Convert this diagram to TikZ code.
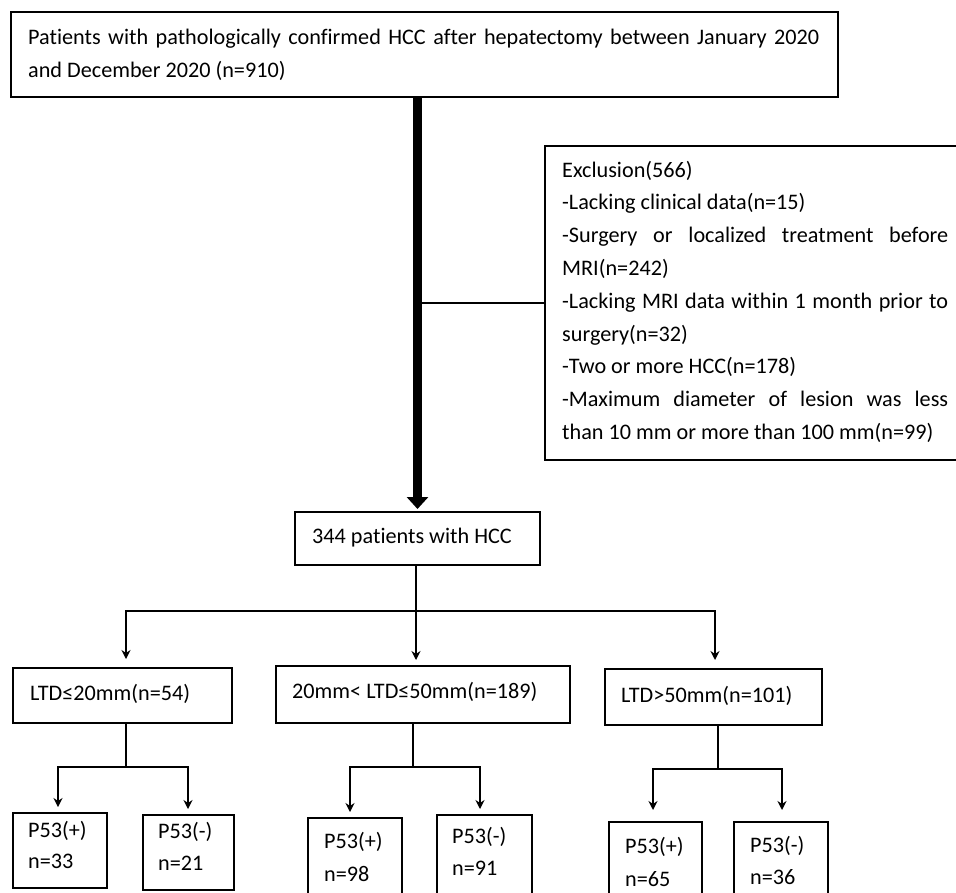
\documentclass[tikz,border=0pt]{standalone}
\usepackage{fontspec}
\setmainfont{Carlito}[Ligatures=NoCommon]
\usetikzlibrary{arrows.meta}

\newcommand{\natsp}{\spaceskip=0pt\xspaceskip=0pt\relax}
\newcommand{\fullline}[2]{\makebox[#1][s]{#2}}

\tikzset{
  box/.style={draw, line width=1.8pt, anchor=north west, inner sep=0pt, outer sep=0pt},
  txt/.style={anchor=base west, inner sep=0pt, font=\fontsize{22.2}{33}\selectfont},
  lines/.style={txt, align=left, text width=#1},
  link/.style={line width=1.5pt},
  arr/.style={link, -{Stealth[length=9pt,width=9pt]}, shorten >=7pt},
  arrs/.style={link, {Stealth[length=9pt,width=9pt]}-{Stealth[length=9pt,width=9pt]}, shorten >=#1, shorten <=#1},
  bigarr/.style={line width=9pt, -{Triangle[length=12pt,width=21pt]}, shorten >=3pt}
}

\begin{document}
\begin{tikzpicture}[x=1pt, y=-1pt]
\useasboundingbox (0,0) rectangle (956,892);
\clip (0,0) rectangle (956,892);

% boxes
\node[box, line width=2.2pt, minimum width=827pt, minimum height=85pt] (top) at (11,12) {};
\node[box, minimum width=430pt, minimum height=314pt] (excl) at (545,146) {};
\node[box, minimum width=245pt, minimum height=53pt] (pat) at (295,512) {};
\node[box, minimum width=219pt, minimum height=55pt] (ltdA) at (13,668) {};
\node[box, minimum width=294pt, minimum height=57pt] (ltdB) at (276,666) {};
\node[box, minimum width=217pt, minimum height=56pt] (ltdC) at (605,669) {};
\node[box, minimum width=94pt, minimum height=75pt] (pA1) at (13,813) {};
\node[box, minimum width=91pt, minimum height=75pt] (pA2) at (143,815) {};
\node[box, minimum width=94pt, minimum height=80pt] (pB1) at (308,818) {};
\node[box, minimum width=95pt, minimum height=82pt] (pB2) at (437,815) {};
\node[box, minimum width=93pt, minimum height=75pt] (pC1) at (609,822) {};
\node[box, minimum width=94pt, minimum height=75pt] (pC2) at (734,822) {};

% texts
\node[lines=791pt] (topT) at (28,44) {\natsp\fullline{791pt}{Patients with pathologically confirmed HCC after hepatectomy between January 2020}\\and December 2020 (n=910)};
\node[lines=386pt, font=\fontsize{22.2}{32.8}\selectfont] (exclT) at (562,177) {\natsp Exclusion(566)\\
-Lacking clinical data(n=15)\\
\fullline{386pt}{-Surgery or localized treatment before}\\
MRI(n=242)\\
\fullline{386pt}{-Lacking MRI data within 1 month prior to}\\
surgery(n=32)\\
-Two or more HCC(n=178)\\
\fullline{386pt}{-Maximum diameter of lesion was less}\\
than 10 mm or more than 100 mm(n=99)};
\node[txt] (patT) at (312,543) {344 patients with HCC};
\node[txt] (ltdAT) at (30,700) {LTD≤20mm(n=54)};
\node[txt] (ltdBT) at (292,698) {20mm< LTD≤50mm(n=189)};
\node[txt] (ltdCT) at (621,702) {LTD>50mm(n=101)};
\node[lines=70pt, font=\fontsize{22.2}{31}\selectfont] (pA1T) at (28,837) {P53(+)\\n=33};
\node[lines=70pt, font=\fontsize{22.2}{32}\selectfont] (pA2T) at (158,838) {P53(-)\\n=21};
\node[lines=70pt, font=\fontsize{22.2}{33}\selectfont] (pB1T) at (324,848) {P53(+)\\n=98};
\node[lines=70pt, font=\fontsize{22.2}{32}\selectfont] (pB2T) at (452,843) {P53(-)\\n=91};
\node[lines=70pt, font=\fontsize{22.2}{33}\selectfont] (pC1T) at (625,853) {P53(+)\\n=65};
\node[lines=70pt, font=\fontsize{22.2}{32}\selectfont] (pC2T) at (750,852) {P53(-)\\n=36};

% main flow
\draw[bigarr] (top.south -| pat.north) -- (pat.north);
\draw[link] (excl.west -| pat.north) -- (excl.west);
\coordinate (jM) at (416,611);
\draw[arr, shorten >=6pt] (pat.south -| jM) -- (jM |- ltdB.north);

% split by LTD
\coordinate (jL) at (126,611);
\coordinate (jR) at (715,611);
\draw[arrs=9pt] (jL |- ltdA.north) -- (jL) -- (jR) -- (jR |- ltdC.north);

% split by P53
\coordinate (sA) at (126,767);
\coordinate (sAl) at (58,767);
\coordinate (sAr) at (188,767);
\draw[link] (ltdA.south -| sA) -- (sA);
\draw[arrs=6pt] (sAl |- pA1.north) -- (sAl) -- (sAr) -- (sAr |- pA2.north);

\coordinate (sB) at (413,767);
\coordinate (sBl) at (350,767);
\coordinate (sBr) at (480,767);
\draw[link] (ltdB.south -| sB) -- (sB);
\draw[arrs=6pt] (sBl |- pB1.north) -- (sBl) -- (sBr) -- (sBr |- pB2.north);

\coordinate (sC) at (718,769);
\coordinate (sCl) at (653,769);
\coordinate (sCr) at (782,769);
\draw[link] (ltdC.south -| sC) -- (sC);
\draw[arrs=12pt] (sCl |- pC1.north) -- (sCl) -- (sCr) -- (sCr |- pC2.north);
\end{tikzpicture}
\end{document}
